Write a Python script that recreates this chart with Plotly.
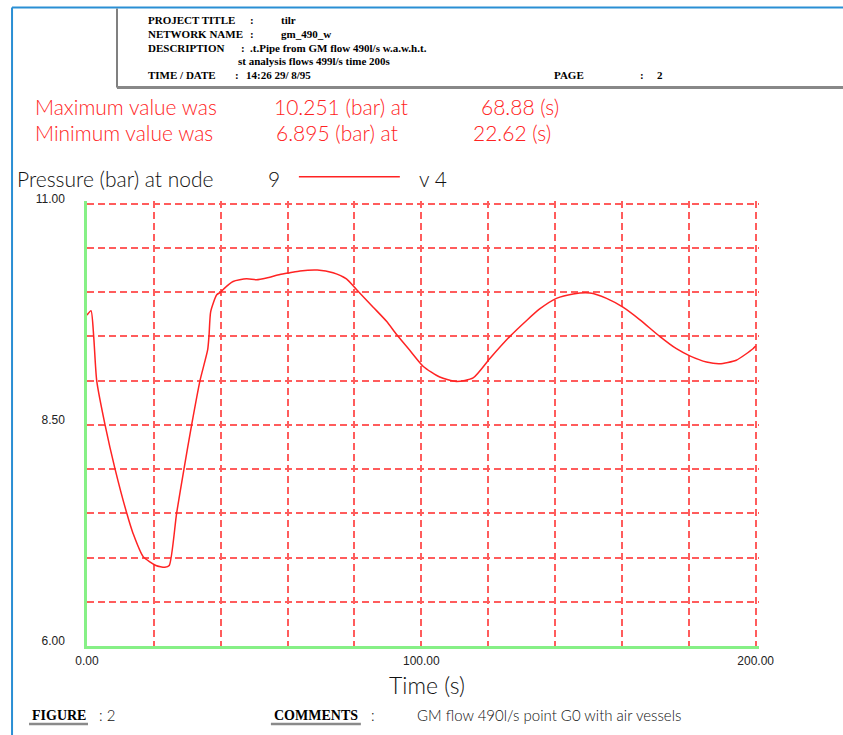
import plotly.graph_objects as go

# ---------------- data ----------------
time_s = [0.0, 1.2, 2.0, 2.9, 5.4, 8.4, 11.9, 13.8, 16.8, 20.6, 23.3, 24.6,
          26.8, 29.0, 31.3, 33.8, 36.1, 36.5, 37.0, 38.8, 40.0, 41.0, 43.7,
          47.7, 50.7, 53.7, 57.7, 60.7, 63.7, 68.9, 73.6, 77.6, 80.6, 85.6,
          89.6, 92.6, 96.6, 100.6, 105.5, 110.5, 115.5, 120.5, 126.5, 131.5,
          135.4, 140.4, 145.4, 150.4, 155.4, 160.3, 165.3, 171.3, 176.3,
          180.3, 185.3, 189.2, 194.2, 199.2, 200.0]
pressure_bar = [9.74, 9.79, 9.50, 9.00, 8.50, 8.00, 7.50, 7.27, 7.01, 6.91, 6.89, 6.91,
                7.50, 8.00, 8.50, 9.00, 9.35, 9.51, 9.78, 9.97, 10.00, 10.04, 10.12,
                10.15, 10.14, 10.16, 10.20, 10.22, 10.24, 10.25, 10.22, 10.15, 10.03, 9.83,
                9.67, 9.52, 9.34, 9.16, 9.04, 8.99, 9.03, 9.25, 9.50, 9.68,
                9.81, 9.93, 9.98, 9.99, 9.93, 9.83, 9.69, 9.50, 9.36,
                9.28, 9.21, 9.19, 9.23, 9.36, 9.39]

x_tick_vals = [0, 100, 200]
x_tick_text = ["0.00", "100.00", "200.00"]
y_tick_vals = [6, 8.5, 11]
y_tick_text = ["6.00", "8.50", "11.00"]

max_value, max_time = "10.251", "68.88"
min_value, min_time = "6.895", "22.62"
node_id, series_name = "9", "v 4"

header_rows = [
    ("PROJECT TITLE", ":", "tilr"),
    ("NETWORK NAME", ":", "gm_490_w"),
    ("DESCRIPTION", ":", ".t.Pipe from GM flow 490l/s w.a.w.h.t."),
    ("", "", "st analysis flows 499l/s time 200s"),
    ("TIME / DATE", ":", "14:26 29/ 8/95"),
]
page_no = "2"
figure_no = "2"
comment = "GM flow 490l/s point G0 with air vessels"

# ---------------- layout geometry ----------------
W, H = 843, 735
X_RANGE = [0, 201]
Y_RANGE = [6, 11.03]
X0_PX, X200_PX = 87, 756        # pixel of t=0 and t=200
Y6_PX, Y11_PX = 646, 204        # pixel of 6 bar and 11 bar
sx = (X200_PX - X0_PX) / 200.0
sy = (Y6_PX - Y11_PX) / 5.0
L = X0_PX
R = X0_PX + sx * X_RANGE[1]
B = Y6_PX
T = Y6_PX - sy * (Y_RANGE[1] - 6)


def px(x):
    return (x - L) / (R - L)


def py(y):
    return (B - y) / (B - T)


RED = "#ff2323"
GRID = "#ff5c5c"
GREEN = "#86f086"
THIN = dict(family="Lato", weight=300)

fig = go.Figure()
fig.add_trace(go.Scatter(x=time_s, y=pressure_bar, mode="lines",
                         line=dict(color=RED, width=1.5, shape="spline", smoothing=0.6),
                         name=series_name, showlegend=False, hoverinfo="x+y"))

grid_common = dict(showgrid=True, gridcolor=GRID, gridwidth=1.5, griddash="7px,4px")
fig.update_xaxes(range=X_RANGE, tickvals=x_tick_vals, ticktext=x_tick_text,
                 showline=True, linecolor=GREEN, linewidth=2.5, zeroline=False,
                 ticks="", ticklabelstandoff=2,
                 tickfont=dict(family="Liberation Sans", size=12, color="#222"),
                 minor=dict(dtick=20, tick0=0, **grid_common), **grid_common)
fig.update_yaxes(range=Y_RANGE, tickvals=y_tick_vals, ticktext=y_tick_text,
                 showline=True, linecolor=GREEN, linewidth=2.5, zeroline=False,
                 ticks="", ticklabelstandoff=17, ticklabelshift=-5,
                 tickfont=dict(family="Liberation Sans", size=12, color="#222"),
                 minor=dict(dtick=0.5, tick0=6, **grid_common), **grid_common)

ann = []


def text(x, y, s, size, color="#111", font=None, anchor="left"):
    f = dict(size=size, color=color)
    f.update(font or THIN)
    ann.append(dict(x=px(x), y=py(y), xref="paper", yref="paper", text=s,
                    showarrow=False, xanchor=anchor, yanchor="middle", font=f))


# header block
SERIF = dict(family="Liberation Serif", weight="bold")
rows_y = [20, 34, 48, 61, 75]
colon_x = [248, 248, 239, None, 233]
value_x = [279, 279, 248, 236, 244]
for (lab, col, val), yy, cx, vx in zip(header_rows, rows_y, colon_x, value_x):
    if lab:
        text(146, yy, lab, 11, "#000", SERIF)
    if col:
        text(cx, yy, col, 11, "#000", SERIF)
    text(vx, yy, val, 11, "#000", SERIF)
text(552, 75, "PAGE", 11, "#000", SERIF)
text(638, 75, ":", 11, "#000", SERIF)
text(655, 75, page_no, 11, "#000", SERIF)

# max / min
text(33, 107, "Maximum value was", 21, RED)
text(272, 107, f"{max_value} (bar) at", 21, RED)
text(479, 107, f"{max_time} (s)", 21, RED)
text(33, 133, "Minimum value was", 21, RED)
text(274, 133, f"{min_value} (bar) at", 21, RED)
text(471, 133, f"{min_time} (s)", 21, RED)

# series label
text(15, 179, "Pressure (bar) at node", 21, "#111")
text(266, 179, node_id, 21, "#111")
text(417, 179, series_name, 21, "#111")

# axis title
text(427, 685, "Time (s)", 23, "#111", anchor="center")

# footer
text(30, 715, "FIGURE", 14, "#000", SERIF)
text(97, 715, ": " + figure_no, 15, "#111")
text(272, 715, "COMMENTS", 14, "#000", SERIF)
text(369, 715, ":", 15, "#111")
text(415, 715, comment, 15, "#111")

shapes = [
    # blue page frame
    dict(type="line", xref="paper", yref="paper", x0=px(12), x1=px(12), y0=py(8), y1=py(740),
         line=dict(color="#2a8fd4", width=2)),
    dict(type="line", xref="paper", yref="paper", x0=px(12), x1=px(850), y0=py(8), y1=py(8),
         line=dict(color="#2a8fd4", width=2)),
    # header box
    dict(type="line", xref="paper", yref="paper", x0=px(117), x1=px(117), y0=py(9), y1=py(88),
         line=dict(color="#808080", width=2)),
    dict(type="line", xref="paper", yref="paper", x0=px(117), x1=px(850), y0=py(88), y1=py(88),
         line=dict(color="#888888", width=3)),
    # legend sample line
    dict(type="line", xref="paper", yref="paper", x0=px(299), x1=px(400), y0=py(177), y1=py(177),
         line=dict(color=RED, width=1.5)),
    # footer underlines
    dict(type="line", xref="paper", yref="paper", x0=px(29), x1=px(88), y0=py(724), y1=py(724),
         line=dict(color="#8a8a8a", width=2.5)),
    dict(type="line", xref="paper", yref="paper", x0=px(271), x1=px(361), y0=py(724), y1=py(724),
         line=dict(color="#8a8a8a", width=2.5)),
]

fig.update_layout(width=W, height=H,
                  margin=dict(l=L, r=W - R, t=T, b=H - B, pad=0),
                  paper_bgcolor="white", plot_bgcolor="white",
                  annotations=ann, shapes=shapes, showlegend=False)

fig.write_html("out.html", config={"displayModeBar": False},
               post_script="document.body.style.margin='0px';"
                           "document.body.style.overflow='hidden';")
